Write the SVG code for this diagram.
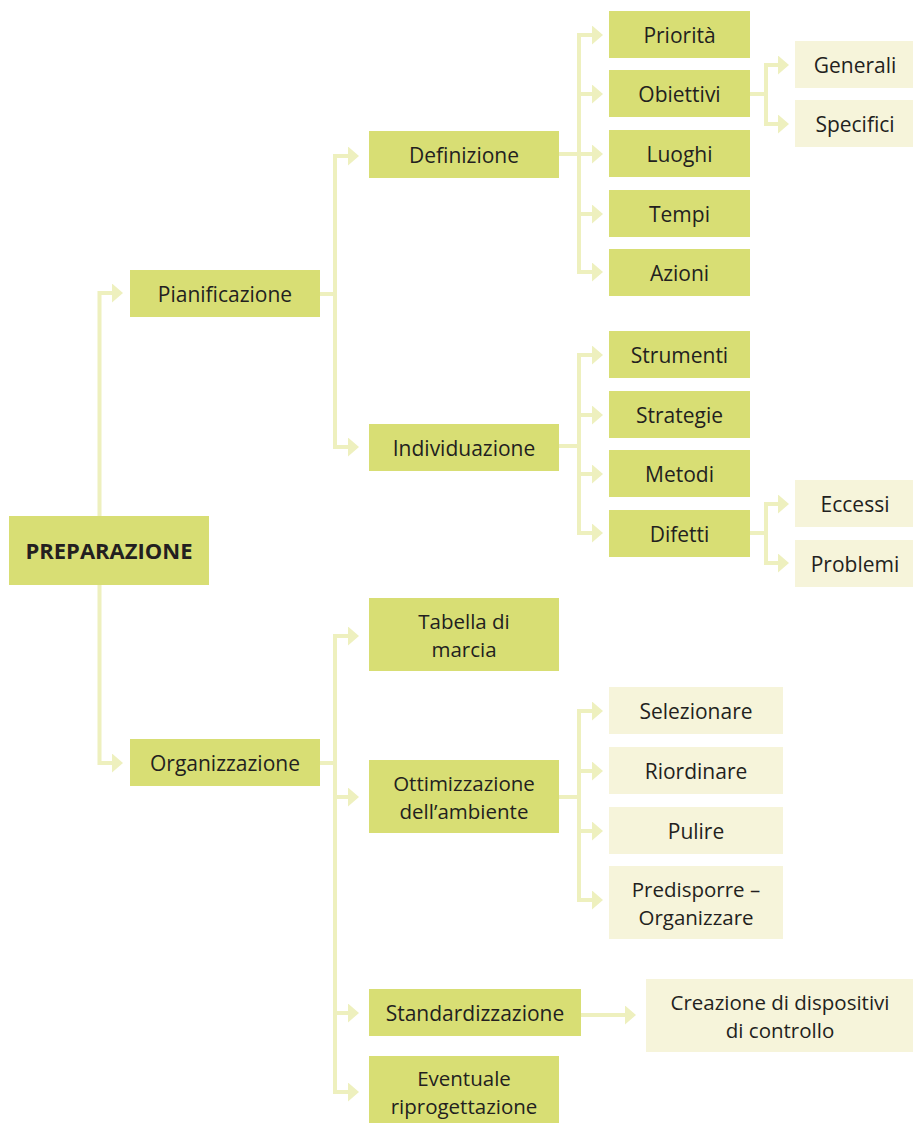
<svg xmlns="http://www.w3.org/2000/svg" width="913" height="1123" viewBox="0 0 913 1123">
<defs>
<marker id="ah" viewBox="0 0 11 19" refX="0" refY="9.5" markerWidth="11" markerHeight="19" markerUnits="userSpaceOnUse" orient="auto">
<path d="M0,0 L11,9.5 L0,19 Z" fill="#EEF0BE"/>
</marker>
<style>
.dk{fill:#D8DE74}
.lt{fill:#F6F4DA}
.t{font-family:"Open Sans","Noto Sans",sans-serif;font-size:21px;fill:#231F20;text-anchor:middle}
.m{font-size:20.5px}
.b{font-weight:bold;font-size:22px}
.c{fill:none;stroke:#EEF0BE;stroke-width:4}
.a{marker-end:url(#ah)}
</style>
</defs>
<rect width="913" height="1123" fill="#FFFFFF"/>
<g id="connectors">
<path class="c a" d="M99.5,516 V293 H112"/>
<path class="c a" d="M99.5,585 V763 H112"/>
<path class="c" d="M320,294 H335"/>
<path class="c a" d="M335,294 V156 H348"/>
<path class="c a" d="M335,294 V447 H348"/>
<path class="c" d="M559,154 H579"/>
<path class="c a" d="M579,154 V35 H592"/>
<path class="c a" d="M579,94 H592"/>
<path class="c a" d="M579,154 H592"/>
<path class="c a" d="M579,214 H592"/>
<path class="c a" d="M579,154 V272 H592"/>
<path class="c" d="M750,94 H766"/>
<path class="c a" d="M766,94 V65 H778"/>
<path class="c a" d="M766,94 V124 H778"/>
<path class="c" d="M559,446 H579"/>
<path class="c a" d="M579,446 V355 H592"/>
<path class="c a" d="M579,415 H592"/>
<path class="c a" d="M579,474 H592"/>
<path class="c a" d="M579,446 V533 H592"/>
<path class="c" d="M750,533 H766"/>
<path class="c a" d="M766,533 V504 H778"/>
<path class="c a" d="M766,533 V563 H778"/>
<path class="c" d="M320,763 H335"/>
<path class="c a" d="M335,763 V636 H348"/>
<path class="c a" d="M335,797 H348"/>
<path class="c a" d="M335,763 V1013 H348"/>
<path class="c a" d="M335,1013 V1092 H348"/>
<path class="c" d="M559,797 H579"/>
<path class="c a" d="M579,797 V711 H592"/>
<path class="c a" d="M579,771 H592"/>
<path class="c a" d="M579,831 H592"/>
<path class="c a" d="M579,797 V900 H592"/>
<path class="c a" d="M581,1015 H625"/>
</g>
<g id="preparazione"><rect class="dk" x="9" y="516" width="200" height="69"/><text class="t b" x="109" y="558.5">PREPARAZIONE</text></g>
<g id="pianificazione"><rect class="dk" x="130" y="270" width="190" height="47"/><text class="t" x="225" y="301.5">Pianificazione</text></g>
<g id="organizzazione"><rect class="dk" x="130" y="739" width="190" height="47"/><text class="t" x="225" y="770.5">Organizzazione</text></g>
<g id="definizione"><rect class="dk" x="369" y="131" width="190" height="47"/><text class="t" x="464" y="162.5">Definizione</text></g>
<g id="individuazione"><rect class="dk" x="369" y="424" width="190" height="47"/><text class="t" x="464" y="455.5">Individuazione</text></g>
<g id="tabella"><rect class="dk" x="369" y="598" width="190" height="73"/><text class="t m" x="464" y="628.5">Tabella di<tspan x="464" dy="28">marcia</tspan></text></g>
<g id="ottimizzazione"><rect class="dk" x="369" y="760" width="190" height="73"/><text class="t m" x="464" y="790.5">Ottimizzazione<tspan x="464" dy="28">dell’ambiente</tspan></text></g>
<g id="standardizzazione"><rect class="dk" x="369" y="989" width="212" height="47"/><text class="t" x="475" y="1020.5">Standardizzazione</text></g>
<g id="eventuale"><rect class="dk" x="369" y="1056" width="190" height="73"/><text class="t m" x="464" y="1086">Eventuale<tspan x="464" dy="28">riprogettazione</tspan></text></g>
<g id="priorita"><rect class="dk" x="609" y="11" width="141" height="47"/><text class="t" x="679.5" y="42.5">Priorità</text></g>
<g id="obiettivi"><rect class="dk" x="609" y="70" width="141" height="47"/><text class="t" x="679.5" y="101.5">Obiettivi</text></g>
<g id="luoghi"><rect class="dk" x="609" y="130" width="141" height="47"/><text class="t" x="679.5" y="161.5">Luoghi</text></g>
<g id="tempi"><rect class="dk" x="609" y="190" width="141" height="47"/><text class="t" x="679.5" y="221.5">Tempi</text></g>
<g id="azioni"><rect class="dk" x="609" y="249" width="141" height="47"/><text class="t" x="679.5" y="280.5">Azioni</text></g>
<g id="strumenti"><rect class="dk" x="609" y="331" width="141" height="47"/><text class="t" x="679.5" y="362.5">Strumenti</text></g>
<g id="strategie"><rect class="dk" x="609" y="391" width="141" height="47"/><text class="t" x="679.5" y="422.5">Strategie</text></g>
<g id="metodi"><rect class="dk" x="609" y="450" width="141" height="47"/><text class="t" x="679.5" y="481.5">Metodi</text></g>
<g id="difetti"><rect class="dk" x="609" y="510" width="141" height="47"/><text class="t" x="679.5" y="541.5">Difetti</text></g>
<g id="generali"><rect class="lt" x="795" y="41" width="118" height="47"/><text class="t" x="855" y="72.5">Generali</text></g>
<g id="specifici"><rect class="lt" x="795" y="100" width="118" height="47"/><text class="t" x="855" y="131.5">Specifici</text></g>
<g id="eccessi"><rect class="lt" x="795" y="480" width="118" height="47"/><text class="t" x="855" y="511.5">Eccessi</text></g>
<g id="problemi"><rect class="lt" x="795" y="540" width="118" height="47"/><text class="t" x="855" y="571.5">Problemi</text></g>
<g id="selezionare"><rect class="lt" x="609" y="687" width="174" height="47"/><text class="t" x="696" y="718.5">Selezionare</text></g>
<g id="riordinare"><rect class="lt" x="609" y="747" width="174" height="47"/><text class="t" x="696" y="778.5">Riordinare</text></g>
<g id="pulire"><rect class="lt" x="609" y="807" width="174" height="47"/><text class="t" x="696" y="838.5">Pulire</text></g>
<g id="predisporre"><rect class="lt" x="609" y="866" width="174" height="73"/><text class="t m" x="696" y="896.5">Predisporre –<tspan x="696" dy="28">Organizzare</tspan></text></g>
<g id="creazione"><rect class="lt" x="646" y="979" width="267" height="73"/><text class="t m" x="780" y="1009.5">Creazione di dispositivi<tspan x="780" dy="28">di controllo</tspan></text></g>
</svg>
